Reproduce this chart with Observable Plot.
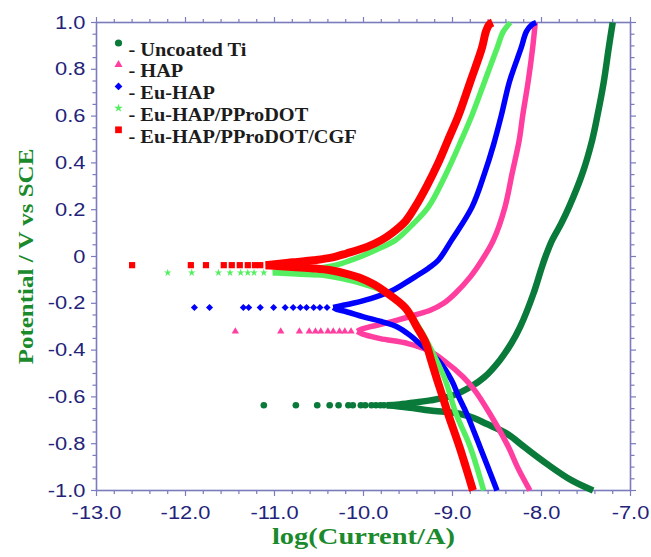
<!DOCTYPE html>
<html>
<head>
<meta charset="utf-8">
<script src="https://cdn.jsdelivr.net/npm/d3@7"></script>
<script src="https://cdn.jsdelivr.net/npm/@observablehq/plot@0.6"></script>
<style>
  html, body { margin: 0; padding: 0; background: #ffffff; }
  #chart { width: 651px; height: 557px; }
</style>
</head>
<body>
<div id="chart"></div>
<script>
// ---------- Data ----------
const seriesNames = ["Uncoated Ti", "HAP", "Eu-HAP", "Eu-HAP/PProDOT", "Eu-HAP/PProDOT/CGF"];
const seriesColors = ["#0a7a3a", "#ff3ea0", "#0000ff", "#55ee60", "#ff0000"];
const seriesSymbols = ["circle", "triangle", "diamond2", "star", "square"];
const ecorr = [-0.636, -0.32, -0.218, -0.069, -0.037];

// Uncoated Ti
const tiAnodicE    = [-0.636, -0.632, -0.624, -0.615, -0.593, -0.558, -0.515, -0.444, -0.372, -0.301, -0.158, -0.05, 0.0, 0.07, 0.14, 0.212, 0.355, 0.498, 0.605, 0.747, 0.89, 1.0];
const tiAnodicLogI = [-9.74, -9.60, -9.42, -9.25, -8.99, -8.80, -8.64, -8.47, -8.34, -8.24, -8.09, -8.00, -7.955, -7.88, -7.78, -7.69, -7.54, -7.43, -7.37, -7.30, -7.245, -7.20];
const tiCathodicE    = [-0.636, -0.645, -0.658, -0.672, -0.69, -0.715, -0.757, -0.815, -0.886, -0.957, -1.0];
const tiCathodicLogI = [-9.74, -9.50, -9.25, -8.92, -8.76, -8.62, -8.39, -8.19, -7.94, -7.66, -7.42];
const tiSparseLogI = [-11.12, -10.76, -10.52, -10.38, -10.28, -10.17, -10.12, -10.03, -9.98, -9.91, -9.86, -9.81, -9.77];

// HAP
const hapAnodicE    = [-0.32, -0.31, -0.30, -0.285, -0.273, -0.25, -0.23, -0.2, -0.158, -0.087, -0.016, 0.07, 0.212, 0.355, 0.498, 0.605, 0.747, 0.89, 1.0];
const hapAnodicLogI = [-10.07, -10.02, -9.92, -9.75, -9.63, -9.42, -9.25, -9.10, -8.97, -8.80, -8.67, -8.54, -8.41, -8.33, -8.25, -8.21, -8.15, -8.10, -8.07];
const hapCathodicE    = [-0.32, -0.328, -0.335, -0.351, -0.372, -0.40, -0.444, -0.515, -0.572, -0.672, -0.815, -0.9, -1.0];
const hapCathodicLogI = [-10.07, -10.03, -9.98, -9.81, -9.50, -9.28, -9.10, -8.88, -8.75, -8.58, -8.37, -8.27, -8.13];
const hapSparseLogI = [-11.44, -10.93, -10.72, -10.61, -10.54, -10.48, -10.40, -10.34, -10.27, -10.21, -10.14];

// Eu-HAP
const euAnodicE    = [-0.218, -0.21, -0.20, -0.18, -0.15, -0.12, -0.087, -0.05, -0.016, 0.07, 0.212, 0.355, 0.476, 0.605, 0.747, 0.89, 0.961, 0.99, 1.0];
const euAnodicLogI = [-10.34, -10.25, -10.12, -9.92, -9.70, -9.56, -9.42, -9.27, -9.16, -9.01, -8.78, -8.64, -8.54, -8.45, -8.36, -8.23, -8.17, -8.11, -8.06];
const euCathodicE    = [-0.218, -0.226, -0.235, -0.258, -0.28, -0.301, -0.336, -0.372, -0.444, -0.529, -0.6, -0.672, -0.815, -1.0];
const euCathodicLogI = [-10.34, -10.30, -10.20, -10.0, -9.78, -9.62, -9.48, -9.37, -9.16, -9.01, -8.93, -8.84, -8.69, -8.50];
const euSparseLogI = [-11.90, -11.73, -11.35, -11.29, -11.16, -11.01, -10.88, -10.79, -10.71, -10.64, -10.56, -10.49, -10.41];

// Eu-HAP/PProDOT
const ppAnodicE    = [-0.069, -0.062, -0.055, -0.045, -0.03, 0.0, 0.035, 0.07, 0.14, 0.212, 0.355, 0.498, 0.605, 0.747, 0.89, 0.961, 1.0];
const ppAnodicLogI = [-11.02, -10.85, -10.68, -10.42, -10.25, -10.03, -9.82, -9.64, -9.44, -9.27, -9.07, -8.90, -8.78, -8.64, -8.50, -8.43, -8.35];
const ppCathodicE    = [-0.069, -0.075, -0.08, -0.09, -0.1, -0.12, -0.144, -0.2, -0.3, -0.444, -0.529, -0.672, -0.815, -1.0];
const ppCathodicLogI = [-11.02, -10.75, -10.45, -10.30, -10.18, -9.98, -9.80, -9.58, -9.38, -9.18, -9.08, -8.96, -8.80, -8.65];
const ppSparseLogI = [-12.20, -11.93, -11.63, -11.50, -11.38, -11.30, -11.23, -11.12];

// Eu-HAP/PProDOT/CGF
const cgfAnodicE    = [-0.037, -0.03, -0.025, -0.016, -0.005, 0.013, 0.041, 0.07, 0.1, 0.15, 0.212, 0.3, 0.4, 0.498, 0.605, 0.747, 0.89, 0.961, 0.99, 1.0];
const cgfAnodicLogI = [-11.10, -10.92, -10.80, -10.56, -10.36, -10.19, -9.96, -9.80, -9.68, -9.53, -9.42, -9.29, -9.16, -9.05, -8.93, -8.80, -8.67, -8.625, -8.59, -8.55];
const cgfCathodicE    = [-0.037, -0.045, -0.051, -0.059, -0.075, -0.09, -0.12, -0.15, -0.22, -0.301, -0.37, -0.444, -0.53, -0.6, -0.672, -0.815, -0.9, -1.0];
const cgfCathodicLogI = [-11.10, -10.80, -10.56, -10.37, -10.18, -10.05, -9.88, -9.76, -9.53, -9.40, -9.30, -9.24, -9.17, -9.11, -9.05, -8.92, -8.85, -8.77];
const cgfSparseLogI = [-12.60, -11.94, -11.77, -11.57, -11.48, -11.39, -11.30, -11.22, -11.16];

// Axis ticks
const xTicks = [-13, -12, -11, -10, -9, -8, -7];
const yTicks = [-1.0, -0.8, -0.6, -0.4, -0.2, 0, 0.2, 0.4, 0.6, 0.8, 1.0];

// ---------- Build tables ----------
const anodic = [
  [tiAnodicE, tiAnodicLogI], [hapAnodicE, hapAnodicLogI], [euAnodicE, euAnodicLogI],
  [ppAnodicE, ppAnodicLogI], [cgfAnodicE, cgfAnodicLogI]
];
const cathodic = [
  [tiCathodicE, tiCathodicLogI], [hapCathodicE, hapCathodicLogI], [euCathodicE, euCathodicLogI],
  [ppCathodicE, ppCathodicLogI], [cgfCathodicE, cgfCathodicLogI]
];
const sparse = [tiSparseLogI, hapSparseLogI, euSparseLogI, ppSparseLogI, cgfSparseLogI];

function rows(pair) {
  return pair[0].map((e, i) => ({E: e, logI: pair[1][i]})).sort((a, b) => a.E - b.E);
}

const lineWidths = [6.5, 5.5, 5.5, 5.5, 8];
const dotR = [3.3, 2.7, 3.2, 2.4, 3.5];

const frameColor = "#7b7bbd";
const labelColor = "#23237a";
const titleGreen = "#1a8a2c";

const xMinor = d3.range(-13, -6.99, 0.2).filter(v => Math.abs(v - Math.round(v)) > 1e-6);
const yMinor = d3.range(-1, 1.001, 0.05).filter(v => Math.abs(v * 5 - Math.round(v * 5)) > 1e-6);

const marks = [];
// axes
const tickFont = {fontSize: 19, fontFamily: "Liberation Sans, Arial, sans-serif"};
marks.push(
  Plot.axisX({ticks: xTicks, anchor: "bottom", tickSize: 6, tickPadding: 9, tickFormat: d => d.toFixed(1),
    stroke: frameColor, fill: labelColor, strokeWidth: 1.2, label: null, ...tickFont}),
  Plot.axisX({ticks: xMinor, anchor: "bottom", tickSize: 4, tickFormat: () => "", stroke: frameColor, strokeWidth: 1.2, label: null}),
  Plot.axisX({ticks: xTicks, anchor: "top", tickSize: 6, tickFormat: () => "", stroke: frameColor, strokeWidth: 1.2, label: null}),
  Plot.axisX({ticks: xMinor, anchor: "top", tickSize: 4, tickFormat: () => "", stroke: frameColor, strokeWidth: 1.2, label: null}),
  Plot.axisY({ticks: yTicks, anchor: "left", tickSize: 5, tickPadding: 6, tickFormat: d => d === 0 ? "0" : d.toFixed(1),
    stroke: frameColor, fill: labelColor, strokeWidth: 1.2, label: null, ...tickFont}),
  Plot.axisY({ticks: yMinor, anchor: "left", tickSize: 3.5, tickFormat: () => "", stroke: frameColor, strokeWidth: 1.2, label: null}),
  Plot.axisY({ticks: yTicks, anchor: "right", tickSize: 5, tickFormat: () => "", stroke: frameColor, strokeWidth: 1.2, label: null}),
  Plot.axisY({ticks: yMinor, anchor: "right", tickSize: 3.5, tickFormat: () => "", stroke: frameColor, strokeWidth: 1.2, label: null}),
  Plot.frame({stroke: frameColor, strokeWidth: 1.6})
);

// curves
seriesNames.forEach((name, s) => {
  marks.push(
    Plot.line(rows(cathodic[s]), {x: "logI", y: "E", stroke: seriesColors[s], strokeWidth: lineWidths[s], curve: "catmull-rom", strokeLinecap: "butt"}),
    Plot.line(rows(anodic[s]), {x: "logI", y: "E", stroke: seriesColors[s], strokeWidth: lineWidths[s], curve: "catmull-rom", strokeLinecap: "butt"}),
    Plot.dot(sparse[s].map(v => ({E: ecorr[s], logI: v})), {x: "logI", y: "E", symbol: seriesSymbols[s], fill: seriesColors[s], r: dotR[s], stroke: "none"})
  );
});

// legend
const legendRowY = [20.5, 42.2, 63.9, 85.6, 107.3];
seriesNames.forEach((name, s) => {
  marks.push(
    Plot.dot([name], {frameAnchor: "top-left", dx: 22, dy: legendRowY[s], symbol: seriesSymbols[s], fill: seriesColors[s], r: dotR[s] + 0.3, stroke: "none"}),
    Plot.text([name], {frameAnchor: "top-left", dx: 32, dy: legendRowY[s], text: d => "- " + d, textAnchor: "start",
      fontFamily: "Liberation Serif, Times New Roman, serif", fontWeight: "bold", fontSize: 18, fill: "#1c1c1c"})
  );
});

// axis titles
marks.push(
  Plot.text(["log(Current/A)"], {frameAnchor: "bottom", dy: 53, text: d => d, textAnchor: "middle", fontFamily: "Liberation Serif, Times New Roman, serif",
    fontWeight: "bold", fontSize: 23, fill: titleGreen}),
  Plot.text(["Potential / V vs SCE"], {frameAnchor: "left", dx: -70, rotate: -90, text: d => d, textAnchor: "middle", fontFamily: "Liberation Serif, Times New Roman, serif",
    fontWeight: "bold", fontSize: 21, fill: titleGreen})
);

const chart = Plot.plot({
  width: 651,
  height: 557,
  marginLeft: 96,
  marginRight: 21,
  marginTop: 22,
  marginBottom: 67,
  x: {domain: [-13, -7], label: null},
  y: {domain: [-1, 1], label: null},
  style: {background: "#ffffff", overflow: "visible"},
  marks
});

// widen text along its own direction (reference glyphs are wide)
chart.querySelectorAll("text").forEach(el => {
  const s = el.textContent;
  let k = null;
  if (s === "log(Current/A)") k = 1.24;
  else if (s === "Potential / V vs SCE") k = 1.19;
  else if (s.startsWith("- ")) k = 1.13;
  else if (/^[-\u2212]?\d/.test(s)) k = 1.15;
  if (!k) return;
  let t = el.getAttribute("transform") || "";
  const xa = el.getAttribute("x");
  if (xa != null && xa !== "" && !isNaN(+xa) && +xa !== 0) {
    t += ` translate(${+xa},0)`;
    el.setAttribute("x", 0);
  }
  el.setAttribute("transform", (t + ` scale(${k},1)`).trim());
});

document.getElementById("chart").appendChild(chart);
</script>
</body>
</html>
